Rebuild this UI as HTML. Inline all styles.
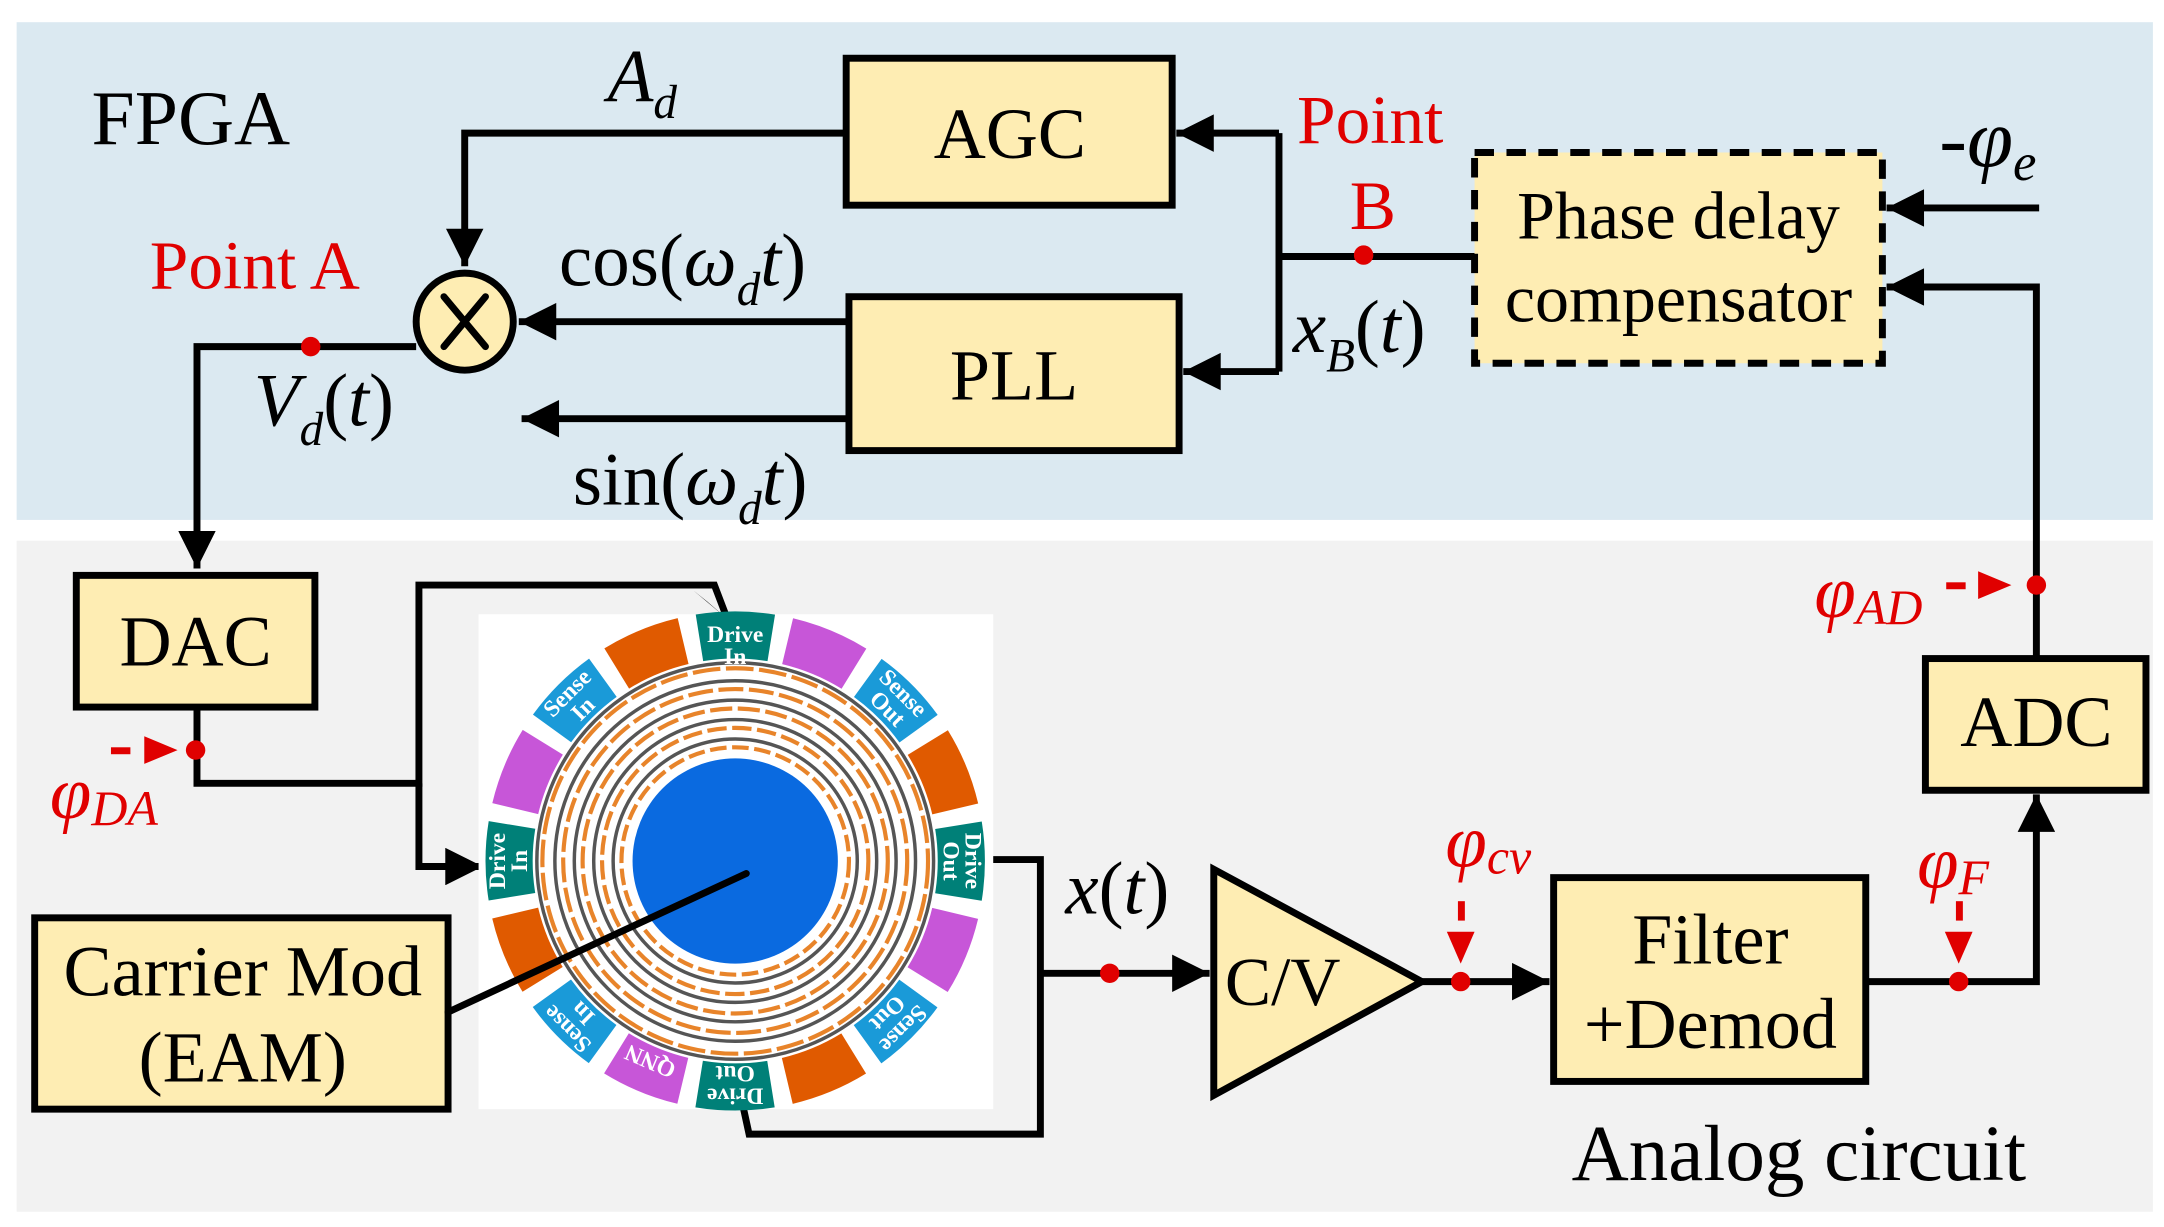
<!DOCTYPE html>
<html><head><meta charset="utf-8"><style>html,body{margin:0;padding:0;background:#fff}svg{display:block}</style></head><body>
<svg width="2164" height="1227" viewBox="0 0 1560 885" preserveAspectRatio="none" xmlns="http://www.w3.org/2000/svg" font-family="Liberation Serif, serif">
<defs>
<marker id="ar" viewBox="0 0 10 10" refX="10" refY="5" markerWidth="6" markerHeight="5.4" orient="auto" markerUnits="strokeWidth"><path d="M0,0L10,5L0,10z" fill="#000"/></marker>
</defs>
<rect width="1560" height="885" fill="#fff"/>
<rect x="12" y="16" width="1540" height="359" fill="#dbe9f1"/>
<rect x="12" y="390" width="1540" height="484" fill="#f2f2f2"/>
<text x="66" y="104" font-size="56">FPGA</text>
<text x="1133" y="851" font-size="57">Analog circuit</text>

<g stroke="#000" stroke-width="5" fill="none">
<path d="M610,96H335V192" marker-end="url(#ar)"/>
<path d="M612,232H374" marker-end="url(#ar)"/>
<path d="M612,302H376" marker-end="url(#ar)"/>
<path d="M300,250H142V410" marker-end="url(#ar)"/>
<path d="M922,96H848" marker-end="url(#ar)"/>
<path d="M922,268H853" marker-end="url(#ar)"/>
<path d="M922,96V268M922,185H1063"/>
<path d="M1470,150H1360" marker-end="url(#ar)"/>
<path d="M1468,475V207H1360" marker-end="url(#ar)"/>
<path d="M142,510V565H302V422H515L523,443" />
<path d="M302,565V625H348" marker-end="url(#ar)"/>
<path d="M710,620H750V818H540L535,795"/>
<path d="M750,702H872" marker-end="url(#ar)"/>
<path d="M1025,708H1117" marker-end="url(#ar)"/>
<path d="M1345,708H1468V573" marker-end="url(#ar)"/>
</g>
<path d="M500,426L525,447L510,434z" fill="#000"/>

<g fill="#feedb3" stroke="#000" stroke-width="5">
<rect x="610" y="42" width="235" height="106"/>
<rect x="612" y="214" width="238" height="111"/>
<rect x="55" y="415" width="172" height="95"/>
<rect x="25" y="662" width="298" height="138"/>
<rect x="1120" y="633" width="225" height="147"/>
<rect x="1388" y="475" width="159" height="95"/>
<rect x="1063" y="110" width="294" height="152" stroke-dasharray="14,9"/>
<path d="M875,627L875,790L1025,708z"/>
<circle cx="335" cy="232" r="35"/>
</g>
<path d="M320,214L350,250M350,214L320,250" stroke="#000" stroke-width="5" stroke-linecap="round"/>

<g font-size="52" text-anchor="middle">
<text x="728" y="114">AGC</text>
<text x="731" y="288">PLL</text>
<text x="141" y="480">DAC</text>
<text x="1468" y="538">ADC</text>
<text x="175" y="718">Carrier Mod</text>
<text x="175" y="780">(EAM)</text>
<text x="1233" y="695">Filter</text>
<text x="1233" y="756">+Demod</text>
<text x="1210" y="172" font-size="49">Phase delay</text>
<text x="1210" y="232" font-size="49">compensator</text>
</g>
<text x="883" y="725" font-size="50">C/V</text>

<g font-size="54">
<text x="438" y="73" font-style="italic">A<tspan font-size="34" dy="12">d</tspan></text>
<text x="403" y="206">cos(<tspan font-style="italic">ω</tspan><tspan font-size="34" font-style="italic" dy="14">d</tspan><tspan font-style="italic" dy="-14">t</tspan>)</text>
<text x="413" y="364">sin(<tspan font-style="italic">ω</tspan><tspan font-size="34" font-style="italic" dy="14">d</tspan><tspan font-style="italic" dy="-14">t</tspan>)</text>
<text x="183" y="307"><tspan font-style="italic">V</tspan><tspan font-size="34" font-style="italic" dy="14">d</tspan><tspan dy="-14">(</tspan><tspan font-style="italic">t</tspan>)</text>
<text x="932" y="254"><tspan font-style="italic">x</tspan><tspan font-size="34" font-style="italic" dy="14">B</tspan><tspan dy="-14">(</tspan><tspan font-style="italic">t</tspan>)</text>
<text x="768" y="659"><tspan font-style="italic">x</tspan>(<tspan font-style="italic">t</tspan>)</text>
<text x="1398" y="120" font-size="60">-<tspan font-style="italic">φ</tspan><tspan font-size="38" font-style="italic" dy="10">e</tspan></text>
</g>
<g fill="#e00000" font-size="50">
<text x="108" y="208">Point A</text>
<text x="935" y="103">Point</text>
<text x="973" y="165">B</text>
<text x="36" y="590" font-style="italic" font-size="54">φ<tspan font-size="36" dy="5">DA</tspan></text>
<text x="1308" y="445" font-style="italic" font-size="54">φ<tspan font-size="36" dy="5">AD</tspan></text>
<text x="1042" y="625" font-style="italic" font-size="54">φ<tspan font-size="36" dy="5">cv</tspan></text>
<text x="1382" y="640" font-style="italic" font-size="54">φ<tspan font-size="36" dy="5">F</tspan></text>
</g>
<g fill="#e00000">
<circle cx="224" cy="250" r="7"/><circle cx="983" cy="184" r="7"/>
<circle cx="141" cy="541" r="7"/><circle cx="1468" cy="422" r="7"/>
<circle cx="800" cy="702" r="7"/><circle cx="1053" cy="708" r="7"/><circle cx="1412" cy="708" r="7"/>
<rect x="80" y="539" width="14" height="5"/><path d="M104,531L128,541L104,551z"/>
<rect x="1403" y="420" width="14" height="5"/><path d="M1426,412L1450,422L1426,432z"/>
<rect x="1051" y="650" width="5" height="14"/><path d="M1043,672L1063,672L1053,695z"/>
<rect x="1410" y="650" width="5" height="14"/><path d="M1402,672L1422,672L1412,695z"/>
</g>

<rect x="345" y="443" width="371" height="357" fill="#fff"/>
<g fill="none" stroke-width="34">
<circle cx="530" cy="621" r="163" stroke="#008078" stroke-dasharray="52 980" transform="rotate(-99.1 530 621)"/>
<circle cx="530" cy="621" r="163" stroke="#c756d8" stroke-dasharray="52 980" transform="rotate(-76.6 530 621)"/>
<circle cx="530" cy="621" r="163" stroke="#1a9ad8" stroke-dasharray="52 980" transform="rotate(-54.1 530 621)"/>
<circle cx="530" cy="621" r="163" stroke="#e05a00" stroke-dasharray="52 980" transform="rotate(-31.6 530 621)"/>
<circle cx="530" cy="621" r="163" stroke="#008078" stroke-dasharray="52 980" transform="rotate(-9.1 530 621)"/>
<circle cx="530" cy="621" r="163" stroke="#c756d8" stroke-dasharray="52 980" transform="rotate(13.4 530 621)"/>
<circle cx="530" cy="621" r="163" stroke="#1a9ad8" stroke-dasharray="52 980" transform="rotate(35.9 530 621)"/>
<circle cx="530" cy="621" r="163" stroke="#e05a00" stroke-dasharray="52 980" transform="rotate(58.4 530 621)"/>
<circle cx="530" cy="621" r="163" stroke="#008078" stroke-dasharray="52 980" transform="rotate(80.9 530 621)"/>
<circle cx="530" cy="621" r="163" stroke="#c756d8" stroke-dasharray="52 980" transform="rotate(103.4 530 621)"/>
<circle cx="530" cy="621" r="163" stroke="#1a9ad8" stroke-dasharray="52 980" transform="rotate(125.9 530 621)"/>
<circle cx="530" cy="621" r="163" stroke="#e05a00" stroke-dasharray="52 980" transform="rotate(148.4 530 621)"/>
<circle cx="530" cy="621" r="163" stroke="#008078" stroke-dasharray="52 980" transform="rotate(170.9 530 621)"/>
<circle cx="530" cy="621" r="163" stroke="#c756d8" stroke-dasharray="52 980" transform="rotate(193.4 530 621)"/>
<circle cx="530" cy="621" r="163" stroke="#1a9ad8" stroke-dasharray="52 980" transform="rotate(215.9 530 621)"/>
<circle cx="530" cy="621" r="163" stroke="#e05a00" stroke-dasharray="52 980" transform="rotate(238.4 530 621)"/>
</g>
<g fill="none">
<circle cx="530" cy="621" r="143" stroke="#555" stroke-width="2.5"/>
<circle cx="530" cy="621" r="139" stroke="#e8842a" stroke-width="3" stroke-dasharray="20 4"/>
<circle cx="530" cy="621" r="130" stroke="#555" stroke-width="2.5"/>
<circle cx="530" cy="621" r="124" stroke="#e8842a" stroke-width="3" stroke-dasharray="18 4"/>
<circle cx="530" cy="621" r="116" stroke="#555" stroke-width="2.5"/>
<circle cx="530" cy="621" r="110" stroke="#e8842a" stroke-width="3" stroke-dasharray="16 4"/>
<circle cx="530" cy="621" r="102" stroke="#555" stroke-width="2.5"/>
<circle cx="530" cy="621" r="96" stroke="#e8842a" stroke-width="3" stroke-dasharray="14 4"/>
<circle cx="530" cy="621" r="88" stroke="#555" stroke-width="2.5"/>
<circle cx="530" cy="621" r="82" stroke="#e8842a" stroke-width="3" stroke-dasharray="12 4"/>
</g>
<circle cx="530" cy="621" r="74" fill="#0a6ae0"/>
<g fill="#fff" font-size="17" font-weight="bold" text-anchor="middle">
<text x="530" y="463">Drive</text><text x="530" y="479">In</text>
<g transform="rotate(90 690 621)"><text x="690" y="615">Drive</text><text x="690" y="631">Out</text></g>
<g transform="rotate(-90 370 621)"><text x="370" y="615">Drive</text><text x="370" y="631">In</text></g>
<g transform="rotate(180 530 779)"><text x="530" y="773">Drive</text><text x="530" y="789">Out</text></g>
<g transform="rotate(45 643 508)"><text x="643" y="502">Sense</text><text x="643" y="518">Out</text></g>
<g transform="rotate(-45 417 508)"><text x="417" y="502">Sense</text><text x="417" y="518">In</text></g>
<g transform="rotate(135 643 734)"><text x="643" y="728">Sense</text><text x="643" y="744">Out</text></g>
<g transform="rotate(-135 417 734)"><text x="417" y="728">Sense</text><text x="417" y="744">In</text></g>
<text x="469" y="770" transform="rotate(-157 469 765)">QNN</text>
</g>
<path d="M323,730L538,630" stroke="#000" stroke-width="5" stroke-linecap="round"/>
</svg>
</body></html>
